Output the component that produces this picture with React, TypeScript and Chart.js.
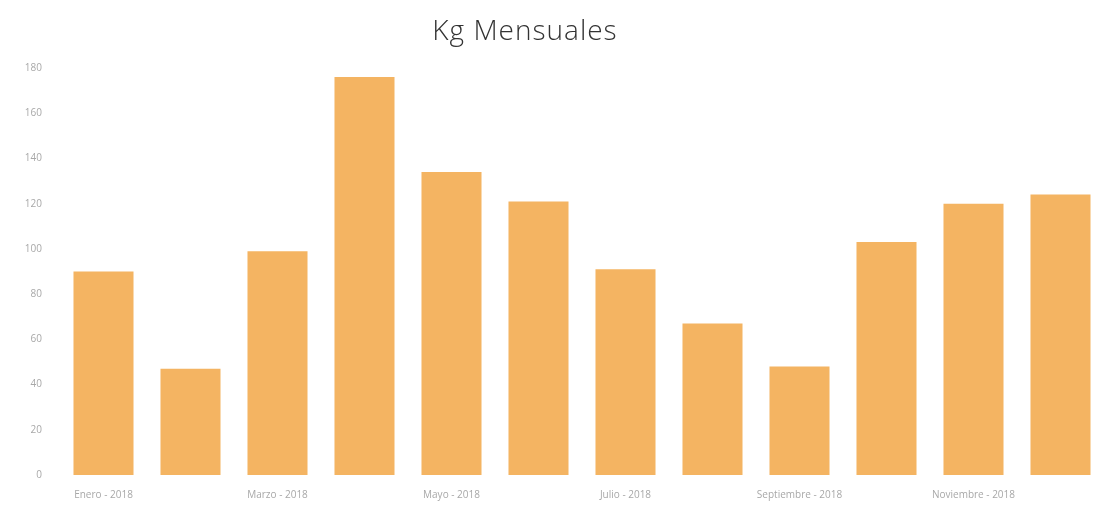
import React, { useEffect, useRef } from "react";
import { Chart, registerables } from "chart.js";

Chart.register(...registerables);

const months = [
  "Enero - 2018", "Febrero - 2018", "Marzo - 2018", "Abril - 2018",
  "Mayo - 2018", "Junio - 2018", "Julio - 2018", "Agosto - 2018",
  "Septiembre - 2018", "Octubre - 2018", "Noviembre - 2018", "Diciembre - 2018",
];
const kgValues = [90, 47, 99, 176, 134, 121, 91, 67, 48, 103, 120, 124];
const yTicks = [0, 20, 40, 60, 80, 100, 120, 140, 160, 180];

export default function App() {
  const ref = useRef<HTMLCanvasElement>(null);
  useEffect(() => {
    document.body.style.margin = "0";
    const chart = new Chart(ref.current!, {
      type: "bar",
      data: {
        labels: months,
        datasets: [
          {
            label: "Kg",
            data: kgValues,
            backgroundColor: "rgb(244,180,98)",
            borderWidth: 0,
            categoryPercentage: 0.69,
            barPercentage: 1,
          },
        ],
      },
      options: {
        animation: false,
        responsive: false,
        layout: { padding: { top: 68, right: 8, bottom: 12, left: 0 } },
        plugins: { legend: { display: false }, title: { display: false }, tooltip: { enabled: false } },
        scales: {
          x: {
            grid: { display: false },
            border: { display: false },
            ticks: {
              autoSkip: false,
              maxRotation: 0,
              padding: 6,
              color: "#a8a8a8",
              font: { family: "Open Sans", size: 10 },
              callback: (_v: any, i: number) => (i % 2 === 0 ? months[i] : ""),
            },
          },
          y: {
            min: 0,
            max: 180,
            grid: { display: false },
            border: { display: false },
            afterFit: (s: any) => { s.width = 60; },
            afterBuildTicks: (s: any) => { s.ticks = yTicks.map((v) => ({ value: v })); },
            ticks: {
              padding: 10,
              color: "#a8a8a8",
              font: { family: "Open Sans", size: 10 },
            },
          },
        },
      },
    });
    return () => chart.destroy();
  }, []);
  return (
    <div style={{ position: "relative", width: 1112, height: 519, background: "#fff" }}>
      <div
        style={{
          position: "absolute",
          top: 10,
          left: 0,
          width: 1050,
          textAlign: "center",
          fontFamily: "'Open Sans', sans-serif",
          fontWeight: 300,
          fontSize: 28,
          letterSpacing: 1,
          color: "#333",
        }}
      >
        Kg Mensuales
      </div>
      <canvas ref={ref} width={1112} height={519} />
    </div>
  );
}
